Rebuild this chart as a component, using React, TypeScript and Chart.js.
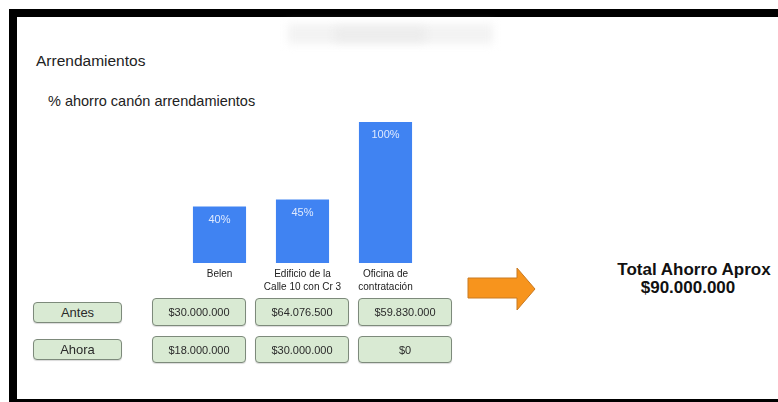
import React, { useEffect, useRef } from "react";
import { Chart, registerables } from "chart.js";

Chart.register(...registerables);

const categoryLines: string[][] = [["Belen"], ["Edificio de la", "Calle 10 con Cr 3"], ["Oficina de", "contratación"]];
const savingsPct: number[] = [40, 45, 100];
const pctLabels: string[] = ["40%", "45%", "100%"];
const rowLabels: string[] = ["Antes", "Ahora"];
const antesValues: string[] = ["$30.000.000", "$64.076.500", "$59.830.000"];
const ahoraValues: string[] = ["$18.000.000", "$30.000.000", "$0"];
const totalTitle = "Total Ahorro Aprox";
const totalValue = "$90.000.000";

const FONT = "'Liberation Sans', Arial, sans-serif";

const labelPlugin = {
  id: "labelPlugin",
  afterDatasetsDraw(chart: any) {
    const ctx = chart.ctx;
    const meta = chart.getDatasetMeta(0);
    ctx.save();
    ctx.textAlign = "center";
    ctx.textBaseline = "middle";
    ctx.font = `11px ${FONT}`;
    ctx.fillStyle = "rgba(235,242,255,0.92)";
    meta.data.forEach((bar: any, i: number) => {
      ctx.fillText(pctLabels[i], bar.x, bar.y + 13);
    });
    const xs = chart.scales.x;
    ctx.font = `10px ${FONT}`;
    ctx.fillStyle = "#222";
    categoryLines.forEach((lines, i) => {
      const x = xs.getPixelForValue(i);
      lines.forEach((ln, j) => {
        ctx.fillText(ln, x, chart.chartArea.bottom + 11 + j * 13);
      });
    });
    ctx.restore();
  },
};

const boxBase: React.CSSProperties = {
  position: "absolute",
  background: "#d9ead3",
  border: "1px solid #7d8a7b",
  borderRadius: 4,
  boxSizing: "border-box",
  display: "flex",
  alignItems: "center",
  justifyContent: "center",
  color: "#2a2a2a",
  fontFamily: FONT,
  boxShadow: "0 1px 1px rgba(0,0,0,0.15)",
};

export default function App() {
  const canvasRef = useRef<HTMLCanvasElement | null>(null);

  useEffect(() => {
    if (!canvasRef.current) return;
    const chart = new Chart(canvasRef.current, {
      type: "bar",
      data: {
        labels: categoryLines.map((l) => l.join(" ")),
        datasets: [
          {
            data: savingsPct,
            backgroundColor: "#4083f2",
            borderWidth: 0,
            barPercentage: 0.8,
            categoryPercentage: 0.8,
          },
        ],
      },
      options: {
        animation: false,
        responsive: false,
        devicePixelRatio: 1,
        layout: { padding: { top: 0, bottom: 35, left: 0, right: 0 } },
        plugins: { legend: { display: false }, tooltip: { enabled: false } },
        scales: {
          x: { display: false },
          y: { display: false, min: 0, max: 100 },
        },
      },
      plugins: [labelPlugin],
    });
    return () => chart.destroy();
  }, []);

  const colX = [152, 255, 358];
  const rowY = [298, 336];
  const rowH = [28, 27];
  const labelY = [302, 339];

  return (
    <div
      style={{
        position: "fixed",
        left: 0,
        top: 0,
        width: 778,
        height: 402,
        background: "#fff",
        overflow: "hidden",
        fontFamily: FONT,
      }}
    >
      {/* frame */}
      <div style={{ position: "absolute", left: 9, top: 9, width: 769, height: 8, background: "#000" }} />
      <div style={{ position: "absolute", left: 9, top: 9, width: 8, height: 393, background: "#000" }} />
      <div style={{ position: "absolute", left: 9, top: 399, width: 769, height: 3, background: "#000" }} />
      {/* blurred header */}
      <div
        style={{
          position: "absolute",
          left: 288,
          top: 24,
          width: 205,
          height: 20,
          background: "#f3f3f3",
          filter: "blur(4px)",
        }}
      />
      <div
        style={{
          position: "absolute",
          left: 335,
          top: 28,
          width: 90,
          height: 13,
          background: "#ececec",
          filter: "blur(4px)",
        }}
      />
      <div style={{ position: "absolute", left: 36, top: 52, fontSize: 15.5, color: "#222", whiteSpace: "nowrap" }}>
        Arrendamientos
      </div>
      <div style={{ position: "absolute", left: 48, top: 93, fontSize: 14.5, color: "#222", whiteSpace: "nowrap" }}>
        % ahorro canón arrendamientos
      </div>

      <canvas
        ref={canvasRef}
        width={249}
        height={176}
        style={{ position: "absolute", left: 178, top: 122, width: 249, height: 176 }}
      />

      {rowLabels.map((lbl, r) => (
        <div key={lbl} style={{ ...boxBase, left: 33, top: labelY[r], width: 89, height: 21, fontSize: 13 }}>
          {lbl}
        </div>
      ))}
      {[antesValues, ahoraValues].map((vals, r) =>
        vals.map((v, c) => (
          <div
            key={`${r}-${c}`}
            style={{ ...boxBase, left: colX[c], top: rowY[r], width: 94, height: rowH[r], fontSize: 11 }}
          >
            {v}
          </div>
        ))
      )}

      <svg style={{ position: "absolute", left: 460, top: 260, overflow: "visible" }} width={90} height={60}>
        <polygon
          points="8,18 57,18 57,8 75,29 57,50 57,38 8,38"
          fill="#f7941d"
          stroke="#c97a22"
          strokeWidth={1}
        />
      </svg>

      <div
        style={{
          position: "absolute",
          left: 594,
          top: 261,
          width: 200,
          textAlign: "center",
          fontWeight: "bold",
          fontSize: 17,
          lineHeight: "18px",
          color: "#111",
        }}
      >
        <div>{totalTitle}</div>
        <div style={{ paddingRight: 12 }}>{totalValue}</div>
      </div>
    </div>
  );
}
